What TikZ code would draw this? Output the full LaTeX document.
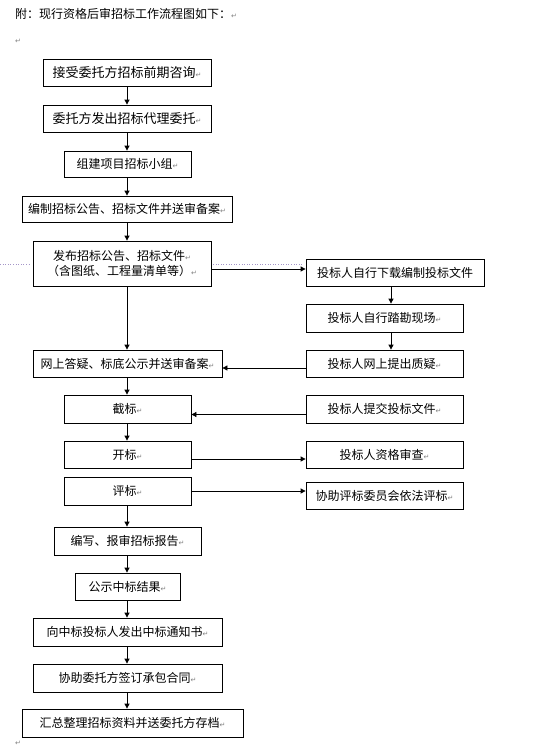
\documentclass[tikz,border=0pt]{standalone}
\usepackage{fontspec}
\setmainfont{Noto Sans CJK SC}
\newfontfamily\symfont{DejaVu Sans}
\usetikzlibrary{arrows.meta}
\newcommand\parmark{{\symfont\fontsize{7pt}{7pt}\selectfont\color{gray}↵}}
\definecolor{dotcol}{RGB}{165,150,200}
\tikzset{
  box/.style={draw, line width=0.8pt, inner sep=0pt, align=center,
    font=\fontsize{12pt}{15pt}\selectfont},
  bigbox/.style={box, font=\fontsize{13pt}{15pt}\selectfont},
  arr/.style={line width=0.8pt, -{Triangle[length=5pt,width=5pt]}},
  pmnode/.style={inner sep=0pt, anchor=west}
}
\begin{document}
\begin{tikzpicture}[x=1pt,y=-1pt]
\useasboundingbox (0,0) rectangle (545,752);
% title
\node[anchor=west, inner sep=0pt, font=\fontsize{12pt}{14pt}\selectfont] (title) at (15,14) {附：现行资格后审招标工作流程图如下：\parmark};
\node[pmnode] (m1) at (15,41) {\parmark};
\node[pmnode] (m2) at (15,743) {\parmark};
% main column
\node[bigbox, minimum width=168pt, minimum height=27pt] (B1) at (127,72.5) {接受委托方招标前期咨询\parmark};
\node[bigbox, minimum width=168pt, minimum height=27pt] (B2) at (127,118.5) {委托方发出招标代理委托\parmark};
\node[box, minimum width=127pt, minimum height=26pt] (B3) at (127.5,164) {组建项目招标小组\parmark};
\node[box, minimum width=210pt, minimum height=26pt] (B4) at (127,209) {编制招标公告、招标文件并送审备案\parmark};
\node[box, minimum width=178pt, minimum height=45pt] (B5) at (122,263.5) {发布招标公告、招标文件\parmark\\（含图纸、工程量清单等）\parmark};
\node[box, minimum width=189pt, minimum height=27pt] (B6) at (127.5,363.5) {网上答疑、标底公示并送审备案\parmark};
\node[box, minimum width=127pt, minimum height=28pt] (B7) at (127.5,409) {截标\parmark};
\node[box, minimum width=127pt, minimum height=27pt] (B8) at (127.5,454.5) {开标\parmark};
\node[box, minimum width=127pt, minimum height=28pt] (B9) at (127.5,491) {评标\parmark};
\node[box, minimum width=147pt, minimum height=28pt] (B10) at (127.5,541) {编写、报审招标报告\parmark};
\node[box, minimum width=105pt, minimum height=27pt] (B11) at (127.5,586.5) {公示中标结果\parmark};
\node[box, minimum width=189pt, minimum height=28pt] (B12) at (127.5,632) {向中标投标人发出中标通知书\parmark};
\node[box, minimum width=189pt, minimum height=28pt] (B13) at (127.5,678) {协助委托方签订承包合同\parmark};
\node[box, minimum width=221pt, minimum height=28pt] (B14) at (132.5,723) {汇总整理招标资料并送委托方存档\parmark};
% right column
\node[box, minimum width=178pt, minimum height=27pt] (R1) at (395,272.5) {投标人自行下载编制投标文件};
\node[box, minimum width=157pt, minimum height=28pt] (R2) at (384.5,318) {投标人自行踏勘现场\parmark};
\node[box, minimum width=157pt, minimum height=27pt] (R3) at (384.5,363.5) {投标人网上提出质疑\parmark};
\node[box, minimum width=157pt, minimum height=28pt] (R4) at (384.5,409) {投标人提交投标文件\parmark};
\node[box, minimum width=157pt, minimum height=27pt] (R5) at (384.5,454.5) {投标人资格审查\parmark};
\node[box, minimum width=157pt, minimum height=27pt] (R6) at (384.5,495.5) {协助评标委员会依法评标\parmark};
% helper coordinates
\coordinate (cx) at (127,0);
\coordinate (rx) at (391,0);
\coordinate (y1) at (0,269);
\coordinate (y2) at (0,368);
\coordinate (y3) at (0,414.5);
\coordinate (y4) at (0,459);
\coordinate (y5) at (0,491);
\coordinate (d0) at (0,264);
\coordinate (d1) at (31,264);
\coordinate (d2) at (213,264);
\coordinate (d3) at (303,264);
% dotted guide line
\draw[dotcol, dotted, line width=0.6pt] (d0) -- (d1);
\draw[dotcol, dotted, line width=0.6pt] (d2) -- (d3);
% vertical arrows main column
\draw[arr] (B1.south -| cx) -- (B2.north -| cx);
\draw[arr] (B2.south -| cx) -- (B3.north -| cx);
\draw[arr] (B3.south -| cx) -- (B4.north -| cx);
\draw[arr] (B4.south -| cx) -- (B5.north -| cx);
\draw[arr] (B5.south -| cx) -- (B6.north -| cx);
\draw[arr] (B6.south -| cx) -- (B7.north -| cx);
\draw[arr] (B7.south -| cx) -- (B8.north -| cx);
\draw[arr] (B9.south -| cx) -- (B10.north -| cx);
\draw[arr] (B10.south -| cx) -- (B11.north -| cx);
\draw[arr] (B11.south -| cx) -- (B12.north -| cx);
\draw[arr] (B12.south -| cx) -- (B13.north -| cx);
\draw[arr] (B13.south -| cx) -- (B14.north -| cx);
% right column
\draw[arr] (R1.south -| rx) -- (R2.north -| rx);
\draw[arr] (R2.south -| rx) -- (R3.north -| rx);
% horizontal
\draw[arr] (B5.east |- y1) -- (R1.west |- y1);
\draw[arr] (R3.west |- y2) -- (B6.east |- y2);
\draw[arr] (R4.west |- y3) -- (B7.east |- y3);
\draw[arr] (B8.east |- y4) -- (R5.west |- y4);
\draw[arr] (B9.east |- y5) -- (R6.west |- y5);
\end{tikzpicture}
\end{document}
